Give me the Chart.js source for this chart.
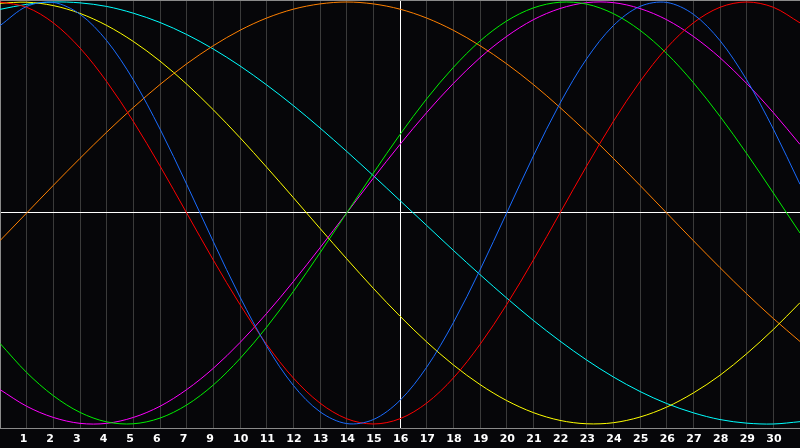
<!DOCTYPE html>
<html>
<head>
<meta charset="utf-8">
<script src="https://cdn.jsdelivr.net/npm/chart.js@4.4.1/dist/chart.umd.min.js"></script>
<style>
html,body{margin:0;padding:0;background:#060609;overflow:hidden;}
#c{display:block;}
</style>
</head>
<body>
<canvas id="c" width="800" height="448"></canvas>
<script>
// x positions (day index across the chart)
const days = [0,1,2,3,4,5,6,7,8,9,10,11,12,13,14,15,16,17,18,19,20,21,22,23,24,25,26,27,28,29,30];
// tick labels for day index 1..29
const tickLabels = ['1','2','3','4','5','6','7','9','10','11','12','13','14','15','16','17','18','19','20','21','22','23','24','25','26','27','28','29','30'];
const todayIndex = 15;

// cycle values (one per day index)
const blueCycle = [0.888,0.979,0.998,0.942,0.817,0.631,0.398,0.136,-0.136,-0.398,-0.631,-0.817,-0.942,-0.998,-0.979,-0.888,-0.731,-0.520,-0.270,0.000,0.270,0.520,0.731,0.888,0.979,0.998,0.942,0.817,0.631,0.398,0.136];
const redCycle = [1.000,0.975,0.901,0.782,0.623,0.434,0.223,0.000,-0.223,-0.434,-0.623,-0.782,-0.901,-0.975,-1.000,-0.975,-0.901,-0.782,-0.623,-0.434,-0.223,0.000,0.223,0.434,0.623,0.782,0.901,0.975,1.000,0.975,0.901];
const greenCycle = [-0.618,-0.756,-0.866,-0.945,-0.990,-0.999,-0.972,-0.910,-0.815,-0.690,-0.541,-0.372,-0.189,0.000,0.189,0.372,0.541,0.690,0.815,0.910,0.972,0.999,0.990,0.945,0.866,0.756,0.618,0.458,0.282,0.095,-0.095];
const magentaCycle = [-0.837,-0.916,-0.969,-0.997,-0.997,-0.969,-0.916,-0.837,-0.736,-0.614,-0.476,-0.325,-0.165,0.000,0.165,0.325,0.476,0.614,0.736,0.837,0.916,0.969,0.997,0.997,0.969,0.916,0.837,0.736,0.614,0.476,0.325];
const yellowCycle = [0.994,0.999,0.983,0.946,0.889,0.813,0.720,0.611,0.489,0.357,0.217,0.073,-0.073,-0.217,-0.357,-0.489,-0.611,-0.720,-0.813,-0.889,-0.946,-0.983,-0.999,-0.994,-0.967,-0.920,-0.853,-0.769,-0.667,-0.552,-0.425];
const orangeCycle = [-0.131,0.000,0.131,0.259,0.383,0.500,0.609,0.707,0.793,0.866,0.924,0.966,0.991,1.000,0.991,0.966,0.924,0.866,0.793,0.707,0.609,0.500,0.383,0.259,0.131,0.000,-0.131,-0.259,-0.383,-0.500,-0.609];
const cyanCycle = [0.965,0.989,1.000,0.996,0.979,0.947,0.903,0.846,0.777,0.697,0.607,0.509,0.403,0.292,0.177,0.059,-0.059,-0.177,-0.292,-0.403,-0.509,-0.607,-0.697,-0.777,-0.846,-0.903,-0.947,-0.979,-0.996,-1.000,-0.989];

const seriesList = [
  {name:'blue', values: blueCycle, color:'#1a6cff'},
  {name:'red', values: redCycle, color:'#ff0000'},
  {name:'green', values: greenCycle, color:'#00f000'},
  {name:'magenta', values: magentaCycle, color:'#ff00ff'},
  {name:'yellow', values: yellowCycle, color:'#ffff00'},
  {name:'orange', values: orangeCycle, color:'#ff8000'},
  {name:'cyan', values: cyanCycle, color:'#00ffff'}
];

const bgPlugin = {
  id:'bg',
  beforeDraw(chart){
    const c = chart.ctx;
    c.save();
    c.fillStyle = '#060609';
    c.fillRect(0,0,chart.width,chart.height);
    c.restore();
  },
  afterDraw(chart){
    const c = chart.ctx;
    const a = chart.chartArea;
    c.save();
    c.strokeStyle = '#8a8a8a';
    c.lineWidth = 1;
    c.beginPath();
    c.moveTo(a.left, a.top + 0.5);
    c.lineTo(a.right, a.top + 0.5);
    c.stroke();
    c.restore();
  }
};

new Chart(document.getElementById('c'), {
  type:'line',
  data:{
    datasets: seriesList.map(s => ({
      label: s.name,
      data: days.map((d,i) => ({x:d, y:s.values[i]})),
      borderColor: s.color,
      borderWidth: 1,
      pointRadius: 0,
      fill: false,
      tension: 0.33
    }))
  },
  options:{
    responsive:false,
    animation:false,
    devicePixelRatio:1,
    layout:{padding:0},
    plugins:{legend:{display:false}, tooltip:{enabled:false}},
    scales:{
      x:{
        type:'linear', min:0, max:30, position:'bottom',
        afterBuildTicks(s){ s.ticks = days.map(v => ({value:v})); },
        afterFit(s){ s.height = 20; s.paddingLeft = 0; s.paddingRight = 0; },
        grid:{
          drawTicks:false,
          lineWidth:1,
          color: ctx => {
            const v = ctx.tick ? ctx.tick.value : -1;
            if (v === todayIndex) return '#ffffff';
            if (v <= 0 || v >= 30) return 'rgba(0,0,0,0)';
            return '#3a3a3a';
          }
        },
        border:{display:true, color:'#8a8a8a', width:1},
        ticks:{
          autoSkip:false, maxRotation:0, minRotation:0,
          align:'start', labelOffset:-7, padding:5,
          color:'#ffffff',
          font:{family:'DejaVu Sans', size:11, weight:'bold'},
          callback: v => (v >= 1 && v <= 29) ? tickLabels[v-1] : ''
        }
      },
      y:{
        type:'linear', min:-1.019, max:1.0095,
        afterBuildTicks(s){ s.ticks = [{value:0}]; },
        afterFit(s){ s.width = 0; s.paddingTop = 0; s.paddingBottom = 0; },
        ticks:{display:false},
        grid:{drawTicks:false, lineWidth:1, color: ctx => (ctx.tick && ctx.tick.value === 0) ? '#ffffff' : 'rgba(0,0,0,0)'},
        border:{display:true, color:'#8a8a8a', width:1}
      }
    }
  },
  plugins:[bgPlugin]
});
</script>
</body>
</html>
